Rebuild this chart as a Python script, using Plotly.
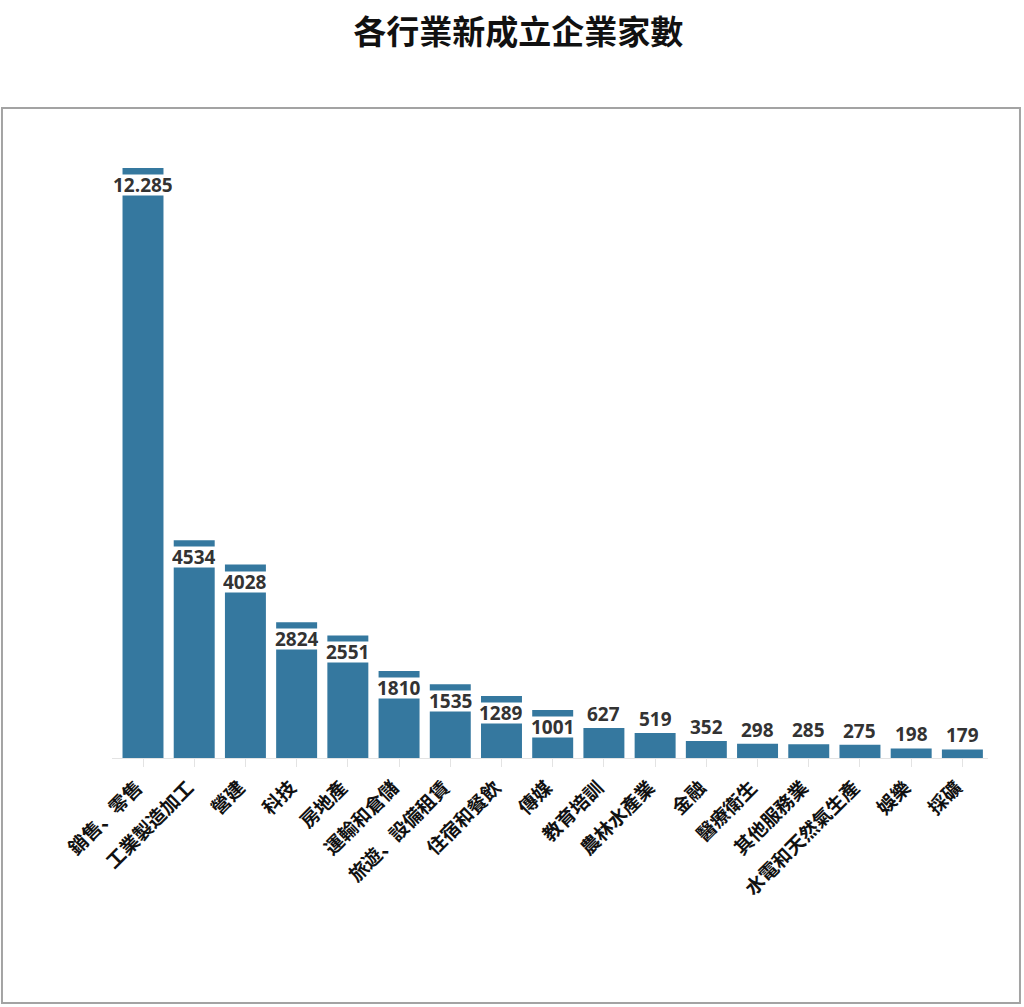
import plotly.graph_objects as go

# 各行業新成立企業家數
industries = ["銷售、零售", "工業製造加工", "營建", "科技", "房地產", "運輸和倉儲",
              "旅遊、設備租賃", "住宿和餐飲", "傳媒", "教育培訓", "農林水產業", "金融",
              "醫療衛生", "其他服務業", "水電和天然氣生產", "娛樂", "採礦"]
counts = [12285, 4534, 4028, 2824, 2551, 1810, 1535, 1289, 1001, 627, 519, 352,
          298, 285, 275, 198, 179]
labels = ["12.285", "4534", "4028", "2824", "2551", "1810", "1535", "1289", "1001",
          "627", "519", "352", "298", "285", "275", "198", "179"]

BAR = "#35789f"
INSIDE_MIN = 1000  # larger bars carry the label inside on a white strip

fig = go.Figure()
fig.add_trace(go.Bar(
    x=industries, y=counts,
    marker=dict(color=BAR, line=dict(width=0)),
    hovertemplate="%{x}: %{y}<extra></extra>",
))

for cat, v, lab in zip(industries, counts, labels):
    inside = v >= INSIDE_MIN
    fig.add_annotation(
        x=cat, y=v, text="<b>" + lab + "</b>", showarrow=False,
        yanchor="top" if inside else "bottom",
        yshift=-6 if inside else 3,
        height=20,
        bgcolor="white" if inside else "rgba(0,0,0,0)",
        borderpad=0,
        font=dict(family="Open Sans, Noto Sans", size=19, color="#333333"),
    )

# outer gray frame
fig.add_shape(type="rect", xref="paper", yref="paper",
              x0=-0.1256, x1=1.0365, y0=-0.3964, y1=1.0518,
              line=dict(color="#a3a3a3", width=2), fillcolor="rgba(0,0,0,0)",
              layer="below")

fig.update_layout(
    title=dict(text="<b>各行業新成立企業家數</b>", x=0.506, xanchor="center", y=0.968, yanchor="middle",
               font=dict(family="Noto Sans CJK TC", size=33, color="#111111")),
    width=1024, height=1007,
    margin=dict(l=112, r=36, t=140, b=249),
    paper_bgcolor="white", plot_bgcolor="white",
    bargap=0.2,
    showlegend=False,
    xaxis=dict(
        tickangle=-45, automargin=False,
        tickfont=dict(family="Noto Sans CJK JP", size=19, color="#111111", weight="bold"),
        ticklabelshift=-6, ticklabelstandoff=2,
        showline=True, linecolor="#e3e3e3", linewidth=1,
        ticks="outside", ticklen=8, tickcolor="#e3e3e3",
        showgrid=False,
    ),
    yaxis=dict(range=[0, 12867], visible=False, showgrid=False, zeroline=False, automargin=False),
)

fig.write_html("out.html", config={"displayModeBar": False},
               post_script="document.body.style.margin='0';")
